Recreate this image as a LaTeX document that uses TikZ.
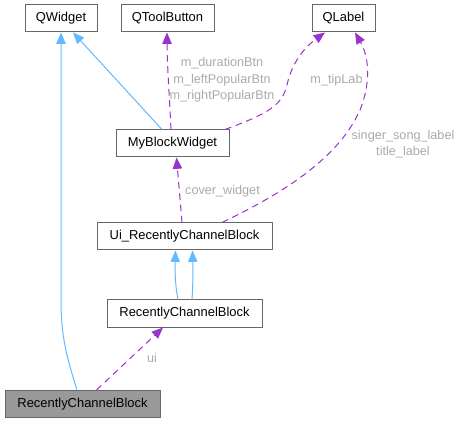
\documentclass[tikz,border=0pt]{standalone}
\usepackage{fontspec}
\setmainfont{Liberation Sans}
\usetikzlibrary{arrows.meta,calc}
\definecolor{edgeblue}{HTML}{63B8FF}
\definecolor{edgepurple}{HTML}{9A32CD}
\definecolor{lblgray}{HTML}{AAAAAA}
\definecolor{boxborder}{HTML}{666666}
\definecolor{boxgray}{HTML}{999999}
\begin{document}
\begin{tikzpicture}[x=0.75pt,y=-0.75pt,
  cls/.style={draw=boxborder,line width=0.75pt,fill=white,minimum height=20.25pt,inner sep=0pt,font=\fontsize{9.7}{12}\selectfont},
  inh/.style={draw=edgeblue,line width=0.75pt,-{Triangle[length=8.5pt,width=7pt]}},
  use/.style={draw=edgepurple,line width=0.75pt,dash pattern=on 5pt off 3.5pt,-{Triangle[length=8.5pt,width=7pt]}},
  lbl/.style={text=lblgray,font=\fontsize{9.5}{12.4}\selectfont,align=center,inner sep=0pt}]
\useasboundingbox (0,0) rectangle (463,423);
\node[cls,minimum width=54pt] (QW) at (61,18.5) {QWidget};
\node[cls,minimum width=69.75pt] (QTB) at (167.5,18.5) {QToolButton};
\node[cls,minimum width=47.25pt] (QL) at (343.5,18.5) {QLabel};
\node[cls,minimum width=84.75pt] (MB) at (172.5,143.5) {MyBlockWidget};
\node[cls,minimum width=131.25pt] (UI) at (184.5,236.5) {Ui\_RecentlyChannelBlock};
\node[cls,minimum width=116.25pt] (RCB) at (184.5,313.5) {RecentlyChannelBlock};
\node[cls,minimum width=116.25pt,fill=boxgray] (G) at (82.5,404) {RecentlyChannelBlock};
% inheritance
\draw[inh] ($(G.north)+(-5.5,0)$) .. controls (66,355) and (61,335) .. (61,300) -- (QW.south);
\draw[inh] ($(MB.north)+(-10.5,0)$) -- ($(QW.south)+(12,0)$);
\draw[inh] ($(RCB.north)+(-6.5,0)$) .. controls (175,285) and (175,270) .. ($(UI.south)+(-9,0)$);
\draw[inh] ($(RCB.north)+(7.5,0)$) .. controls (193,285) and (193,270) .. ($(UI.south)+(8,0)$);
% usage
\draw[use] ($(MB.north)+(-1.5,0)$) .. controls (169,90) and (167,60) .. ($(QTB.south)+(-0.5,0)$);
\draw[use] ($(MB.north)+(52.5,0)$) .. controls (270,113) and (282,105) .. (287,85) .. controls (292,62) and (305,47) .. ($(QL.south)+(-18.5,0)$);
\draw[use] ($(UI.north)+(37.5,0)$) .. controls (290,190) and (340,155) .. (360,110) .. controls (372,80) and (368,55) .. ($(QL.south)+(11.5,0)$);
\draw[use] ($(UI.north)+(-2.5,0)$) -- ($(MB.south)+(4,0)$);
\draw[use] ($(G.north)+(14,0)$) -- ($(RCB.south)+(-21.5,0)$);
% labels
\node[lbl] (l1) at (222,80) {m\_durationBtn\\m\_leftPopularBtn\\m\_rightPopularBtn};
\node[lbl] (l2) at (336.5,80) {m\_tipLab};
\node[lbl] (l3) at (403,144) {singer\_song\_label\\title\_label};
\node[lbl] (l4) at (222.5,191.5) {cover\_widget};
\node[lbl] (l5) at (152,358) {ui};
\end{tikzpicture}
\end{document}
